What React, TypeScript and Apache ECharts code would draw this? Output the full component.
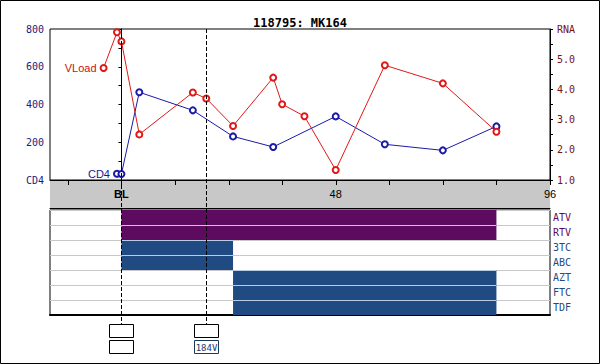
import React, { useEffect, useRef } from "react";
import * as echarts from "echarts";

const titleText = "118795: MK164";
const cd4Weeks = [-1, 0, 4, 16, 25, 34, 48, 59, 72, 84];
const cd4Values = [33, 32, 465, 369, 231, 175, 337, 189, 157, 284];
const vlWeeks = [-4, -1, 0, 4, 16, 19, 25, 34, 36, 41, 48, 59, 72, 84];
const vlValues = [4.71, 5.89, 5.59, 2.51, 3.9, 3.7, 2.79, 4.39, 3.51, 3.11, 1.33, 4.8, 4.2, 2.6];
const drugs = ["ATV", "RTV", "3TC", "ABC", "AZT", "FTC", "TDF"];
const drugStart = [0, 0, 0, 0, 25, 25, 25];
const drugEnd = [84, 84, 25, 25, 84, 84, 84];
const drugColors = ["#5c0b5e", "#5c0b5e", "#1f4a82", "#1f4a82", "#1f4a82", "#1f4a82", "#1f4a82"];
const xTicks = [-12, 0, 12, 24, 36, 48, 60, 72, 84, 96];
const xLabelValues = [0, 48, 96];
const xLabelTexts = ["BL", "48", "96"];
const markerWeeks = [0, 19];
const markerBoxes = [["", ""], ["", "184V"]];

const MONO = '"DejaVu Sans Mono", monospace';
const SANS = '"Liberation Sans", Arial, sans-serif';

export default function App() {
  const ref = useRef<HTMLDivElement>(null);
  useEffect(() => {
    document.body.style.margin = "0";
    const chart = echarts.init(ref.current!, null, { renderer: "svg" });
    const hiddenAxis = { axisLine: { show: false }, axisTick: { show: false }, axisLabel: { show: false }, splitLine: { show: false } };
    const option: any = {
      animation: false,
      backgroundColor: "#fff",
      title: {
        text: titleText,
        left: "center",
        top: 12,
        textStyle: { fontFamily: MONO, fontWeight: "bold", fontSize: 12, color: "#000" },
      },
      grid: [
        { left: 50, top: 29, width: 500, height: 151, show: true, borderColor: "#000", borderWidth: 1, backgroundColor: "#fff" },
        { left: 50, top: 180, width: 500, height: 28, show: true, backgroundColor: "#c8c8c8", borderWidth: 0 },
        { left: 50, top: 210, width: 500, height: 105, show: true, borderColor: "#000", borderWidth: 1, backgroundColor: "#fff" },
      ],
      xAxis: [
        {
          gridIndex: 0, type: "value", min: -16, max: 96, position: "bottom",
          axisLine: { show: true, lineStyle: { color: "#000" } },
          axisTick: { show: false }, axisLabel: { show: false }, splitLine: { show: false },
        },
        {
          gridIndex: 1, type: "value", min: -16, max: 96, position: "top",
          axisLine: { show: true, lineStyle: { color: "#000" } },
          axisTick: { show: false }, axisLabel: { show: false }, splitLine: { show: false },
        },
        {
          gridIndex: 2, type: "value", min: -16, max: 96, position: "bottom",
          axisLine: { show: true, lineStyle: { color: "#000", width: 2 } },
          axisTick: { show: false }, axisLabel: { show: false }, splitLine: { show: false },
        },
      ],
      yAxis: [
        {
          gridIndex: 0, type: "value", min: 0, max: 800, interval: 100, position: "left",
          axisLine: { show: true, lineStyle: { color: "#000" } },
          axisTick: { show: true, length: 3, lineStyle: { color: "#000" } },
          axisLabel: {
            margin: 6, fontFamily: MONO, fontSize: 10, color: "#1a1a80",
            formatter: (v: number) => (v === 0 ? "CD4" : v % 200 === 0 ? String(v) : ""),
          },
          splitLine: { show: false },
        },
        {
          gridIndex: 0, type: "value", min: 1, max: 6, interval: 0.5, position: "right",
          axisLine: { show: true, lineStyle: { color: "#000" } },
          axisTick: { show: true, length: 3, lineStyle: { color: "#000" } },
          axisLabel: {
            margin: 7, fontFamily: MONO, fontSize: 10, color: "#7a1010",
            formatter: (v: number) => (Math.abs(v - 6) < 1e-6 ? "RNA" : Math.abs(v - Math.round(v)) < 1e-6 ? v.toFixed(1) : ""),
          },
          splitLine: { show: false },
        },
        {
          gridIndex: 2, type: "category", data: drugs, inverse: true, position: "right",
          axisLine: { show: false }, axisTick: { show: false },
          axisLabel: {
            margin: 3, fontFamily: MONO, fontSize: 10,
            color: (_v: any, i: number) => drugColors[i],
          },
          splitLine: { show: true, lineStyle: { color: "#c8c8c8", width: 1 } },
        },
        { gridIndex: 1, type: "value", min: 0, max: 1, ...hiddenAxis },
      ],
      series: [
        {
          type: "line", xAxisIndex: 0, yAxisIndex: 0, z: 3,
          data: cd4Weeks.map((w, i) =>
            i === 0
              ? { value: [w, cd4Values[i]], label: { show: true, position: "left", distance: 3, formatter: "CD4", color: "#1a1a90", fontFamily: SANS, fontSize: 11 } }
              : [w, cd4Values[i]]
          ),
          symbol: "emptyCircle", symbolSize: 6,
          itemStyle: { color: "#1a1aa8", borderWidth: 1 },
          lineStyle: { color: "#1a1aa8", width: 1 },
        },
        {
          type: "line", xAxisIndex: 0, yAxisIndex: 1, z: 4,
          data: vlWeeks.map((w, i) =>
            i === 0
              ? { value: [w, vlValues[i]], label: { show: true, position: "left", distance: 3, formatter: "VLoad", color: "#cc1010", fontFamily: SANS, fontSize: 11 } }
              : [w, vlValues[i]]
          ),
          symbol: "emptyCircle", symbolSize: 6,
          itemStyle: { color: "#e01818", borderWidth: 1 },
          lineStyle: { color: "#e01818", width: 1 },
        },
        {
          type: "custom", xAxisIndex: 2, yAxisIndex: 2, z: 2,
          encode: { x: [1, 2], y: 0 },
          data: drugs.map((_d, i) => [i, drugStart[i], drugEnd[i]]),
          renderItem: (params: any, api: any) => {
            const row = api.value(0);
            const p0 = api.coord([api.value(1), row]);
            const p1 = api.coord([api.value(2), row]);
            const h = api.size([0, 1])[1];
            const y0 = p0[1] - h / 2;
            const children: any[] = [
              { type: "rect", shape: { x: p0[0], y: y0, width: p1[0] - p0[0], height: h }, style: { fill: drugColors[params.dataIndex] } },
            ];
            if (row > 0) {
              const yl = Math.round(y0) + 0.5;
              children.push({ type: "line", shape: { x1: p0[0], y1: yl, x2: p1[0], y2: yl }, style: { stroke: "#b8cce8", lineWidth: 1 } });
            }
            return { type: "group", children };
          },
        },
        {
          type: "custom", xAxisIndex: 1, yAxisIndex: 3, z: 5,
          encode: { x: 0 },
          data: xTicks.map((v) => [v]),
          renderItem: (_params: any, api: any) => {
            const v = api.value(0);
            const p = api.coord([v, 1]);
            const x = Math.round(p[0]) + 0.5;
            const children: any[] = [
              { type: "line", shape: { x1: x, y1: p[1], x2: x, y2: p[1] + 5 }, style: { stroke: "#000", lineWidth: 1 } },
            ];
            const li = xLabelValues.indexOf(v);
            if (li >= 0) {
              children.push({
                type: "text",
                x: p[0], y: p[1] + 14,
                style: {
                  text: xLabelTexts[li], fill: "#000",
                  font: (li === 0 ? "bold " : "") + "11px " + SANS,
                  textAlign: "center", textVerticalAlign: "middle",
                },
              });
            }
            return { type: "group", children };
          },
        },
      ],
    };
    chart.setOption(option);

    const yTop = chart.convertToPixel({ yAxisIndex: 0 }, 800) as number;
    const boxTop = 324;
    const graphics: any[] = [
      { type: "rect", z: 100, shape: { x: 0.5, y: 0.5, width: 599, height: 363 }, style: { fill: "none", stroke: "#000", lineWidth: 1 } },
    ];
    markerWeeks.forEach((w, i) => {
      const px = Math.round(chart.convertToPixel({ xAxisIndex: 0 }, w) as number) + 0.5;
      graphics.push({
        type: "line", z: 50,
        shape: { x1: px, y1: yTop, x2: px, y2: boxTop },
        style: { stroke: "#000", lineWidth: 1, lineDash: [4, 2] },
      });
      markerBoxes[i].forEach((txt, j) => {
        const by = boxTop + j * 16 + 0.5;
        graphics.push({
          type: "rect", z: 50,
          shape: { x: px - 12, y: by, width: 24, height: 13 },
          style: { fill: "#fff", stroke: j === 1 && txt ? "#1a3a5a" : "#000", lineWidth: 1 },
        });
        if (txt) {
          graphics.push({
            type: "text", z: 51, x: px, y: by + 7,
            style: { text: txt, fill: "#1a3a6a", font: '9px "DejaVu Sans Mono", monospace', textAlign: "center", textVerticalAlign: "middle" },
          });
        }
      });
    });
    chart.setOption({ graphic: graphics });
    return () => chart.dispose();
  }, []);
  return <div ref={ref} style={{ width: 600, height: 364 }} />;
}
